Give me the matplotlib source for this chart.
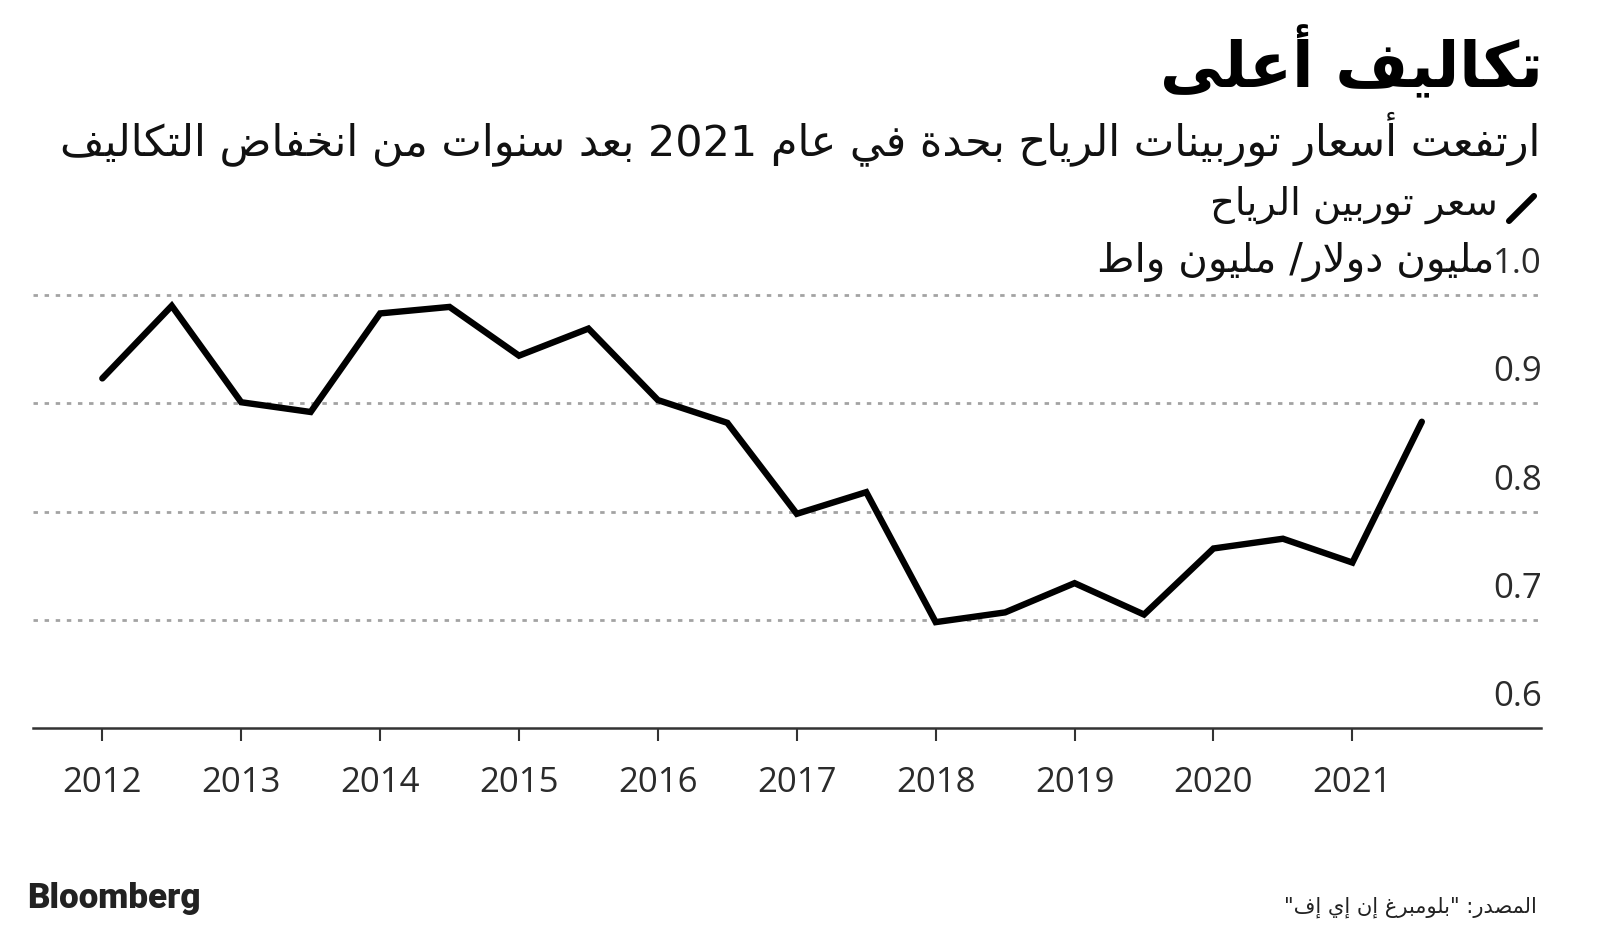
import re
import matplotlib
matplotlib.use("Agg")
import matplotlib.pyplot as plt
from matplotlib.lines import Line2D
from matplotlib.transforms import offset_copy, blended_transform_factory

# ---------------- data ----------------
periods = [2012.0, 2012.5, 2013.0, 2013.5, 2014.0, 2014.5, 2015.0, 2015.5,
           2016.0, 2016.5, 2017.0, 2017.5, 2018.0, 2018.5, 2019.0, 2019.5,
           2020.0, 2020.5, 2021.0, 2021.5]
price = [0.923, 0.990, 0.901, 0.892, 0.983, 0.989, 0.944, 0.969,
         0.903, 0.882, 0.798, 0.818, 0.698, 0.707, 0.734, 0.705,
         0.766, 0.775, 0.753, 0.883]
year_ticks = [2012, 2013, 2014, 2015, 2016, 2017, 2018, 2019, 2020, 2021]
year_labels = ["2012", "2013", "2014", "2015", "2016", "2017", "2018", "2019", "2020", "2021"]
y_ticks = [0.6, 0.7, 0.8, 0.9, 1.0]
y_labels = ["0.6", "0.7", "0.8", "0.9", "1.0"]

title_txt = "تكاليف أعلى"
subtitle_txt = "ارتفعت أسعار توربينات الرياح بحدة في عام 2021 بعد سنوات من انخفاض التكاليف"
legend_txt = "سعر توربين الرياح"
unit_txt = "مليون دولار/ مليون واط"
source_txt = 'المصدر: "بلومبرغ إن إي إف"'
brand_txt = "Bloomberg"

# ---------------- minimal Arabic shaping + visual ordering ----------------
_TABLE = [('ء', 0xFE80, 1), ('آ', 0xFE81, 2), ('أ', 0xFE83, 2), ('ؤ', 0xFE85, 2),
          ('إ', 0xFE87, 2), ('ئ', 0xFE89, 4), ('ا', 0xFE8D, 2), ('ب', 0xFE8F, 4),
          ('ة', 0xFE93, 2), ('ت', 0xFE95, 4), ('ث', 0xFE99, 4), ('ج', 0xFE9D, 4),
          ('ح', 0xFEA1, 4), ('خ', 0xFEA5, 4), ('د', 0xFEA9, 2), ('ذ', 0xFEAB, 2),
          ('ر', 0xFEAD, 2), ('ز', 0xFEAF, 2), ('س', 0xFEB1, 4), ('ش', 0xFEB5, 4),
          ('ص', 0xFEB9, 4), ('ض', 0xFEBD, 4), ('ط', 0xFEC1, 4), ('ظ', 0xFEC5, 4),
          ('ع', 0xFEC9, 4), ('غ', 0xFECD, 4), ('ف', 0xFED1, 4), ('ق', 0xFED5, 4),
          ('ك', 0xFED9, 4), ('ل', 0xFEDD, 4), ('م', 0xFEE1, 4), ('ن', 0xFEE5, 4),
          ('ه', 0xFEE9, 4), ('و', 0xFEED, 2), ('ى', 0xFEEF, 2), ('ي', 0xFEF1, 4)]
FORMS = {c: tuple(chr(s + k) for k in range(n)) for c, s, n in _TABLE}
LAM_ALEF = {'آ': 0xFEF5, 'أ': 0xFEF7, 'إ': 0xFEF9, 'ا': 0xFEFB}


def shape(s):
    out = []
    i, n = 0, len(s)
    prev_join = False
    while i < n:
        c = s[i]
        if c not in FORMS:
            out.append(c)
            prev_join = False
            i += 1
            continue
        nxt = s[i + 1] if i + 1 < n else ''
        if c == 'ل' and nxt in LAM_ALEF:
            out.append(chr(LAM_ALEF[nxt] + (1 if prev_join else 0)))
            prev_join = False
            i += 2
            continue
        f = FORMS[c]
        dual = len(f) == 4
        join_next = dual and nxt in FORMS and len(FORMS[nxt]) > 1
        if prev_join and join_next:
            g = f[3]
        elif prev_join:
            g = f[1] if len(f) > 1 else f[0]
        elif join_next:
            g = f[2]
        else:
            g = f[0]
        out.append(g)
        prev_join = join_next
        i += 1
    return ''.join(out)


def ar(s):
    sh = shape(s)
    toks = re.findall(r'[0-9A-Za-z.]+|[^0-9A-Za-z.]+', sh)
    res = []
    for t in reversed(toks):
        if re.match(r'[0-9A-Za-z]', t):
            res.append(t)
        else:
            res.append(t[::-1])
    return ''.join(res)


# ---------------- figure ----------------
W, H = 1600, 934
fig = plt.figure(figsize=(W / 100, H / 100), dpi=100)
fig.patch.set_facecolor("white")

ax = fig.add_axes([33 / W, (H - 728.3) / H, 1508 / W, (728.3 - 295) / H])
ax.set_facecolor("white")
ax.set_xlim(2011.501, 2022.358)
ax.set_ylim(0.6, 1.0)

for s in ["top", "right", "left"]:
    ax.spines[s].set_visible(False)
ax.spines["bottom"].set_color("#333333")
ax.spines["bottom"].set_linewidth(1.8)

# gridlines
for v in y_ticks[1:]:
    ax.axhline(v, color="#a3a3a3", lw=2.0, dashes=(1.6, 2.4), zorder=1, clip_on=False)

ax.plot(periods, price, color="black", lw=4.6, solid_joinstyle="miter",
        solid_capstyle="round", zorder=3, clip_on=False)

ax.set_yticks([])
ax.set_xticks(year_ticks)
ax.set_xticklabels([])
ax.tick_params(axis="x", length=9.5, width=1.5, color="#333333", direction="out")

num_font = "Open Sans"
# year labels
trans_x = offset_copy(blended_transform_factory(ax.transData, ax.transAxes),
                      fig=fig, x=0, y=-64, units="dots")
for yr, lab in zip(year_ticks, year_labels):
    ax.text(yr, 0, lab, transform=trans_x, ha="center", va="baseline",
            fontsize=25, color="#2b2b2b", family=num_font)

# y labels (above gridlines, right-aligned)
trans_y = offset_copy(blended_transform_factory(ax.transAxes, ax.transData),
                      fig=fig, x=1, y=22, units="dots")
for v, lab in zip(y_ticks, y_labels):
    ax.text(1.0, v, lab, transform=trans_y, ha="right", va="baseline",
            fontsize=25, color="#2b2b2b", family=num_font)

AR = ["DejaVu Sans"]


def ftext(x, y, s, **kw):
    return fig.text(x / W, 1 - y / H, s, **kw)


t_title = ftext(1543, 87, ar(title_txt), ha="right", va="baseline", fontsize=44,
                fontweight="bold", color="black", family=AR)
t_sub = ftext(1540, 155, ar(subtitle_txt), ha="right", va="baseline", fontsize=26,
              color="#111111", family=AR)
t_leg = ftext(1498, 215, ar(legend_txt), ha="right", va="baseline", fontsize=24,
              color="#111111", family=AR)
t_unit = ftext(1494, 272, ar(unit_txt), ha="right", va="baseline", fontsize=24,
               color="#111111", family=AR)
t_src = ftext(1537, 913, ar(source_txt), ha="right", va="baseline", fontsize=15,
              color="#222222", family=AR)
t_brand = ftext(27, 908, brand_txt, ha="left", va="baseline", fontsize=21,
                fontweight="heavy", color="#222222", family=["Roboto", "DejaVu Sans"])

# legend icon
fig.add_artist(Line2D([1509 / W, 1534 / W], [1 - 221 / H, 1 - 196 / H],
                      transform=fig.transFigure, color="black", lw=4.4,
                      solid_capstyle="round"))

# fit text widths to reference widths
fig.canvas.draw()
r = fig.canvas.get_renderer()
for t, tw in [(t_title, 383), (t_sub, 1478), (t_leg, 289), (t_unit, 398),
              (t_src, 255), (t_brand, 173)]:
    w = t.get_window_extent(r).width
    t.set_fontsize(t.get_fontsize() * tw / w)

fig.savefig("out.png", dpi=100, facecolor="white")
